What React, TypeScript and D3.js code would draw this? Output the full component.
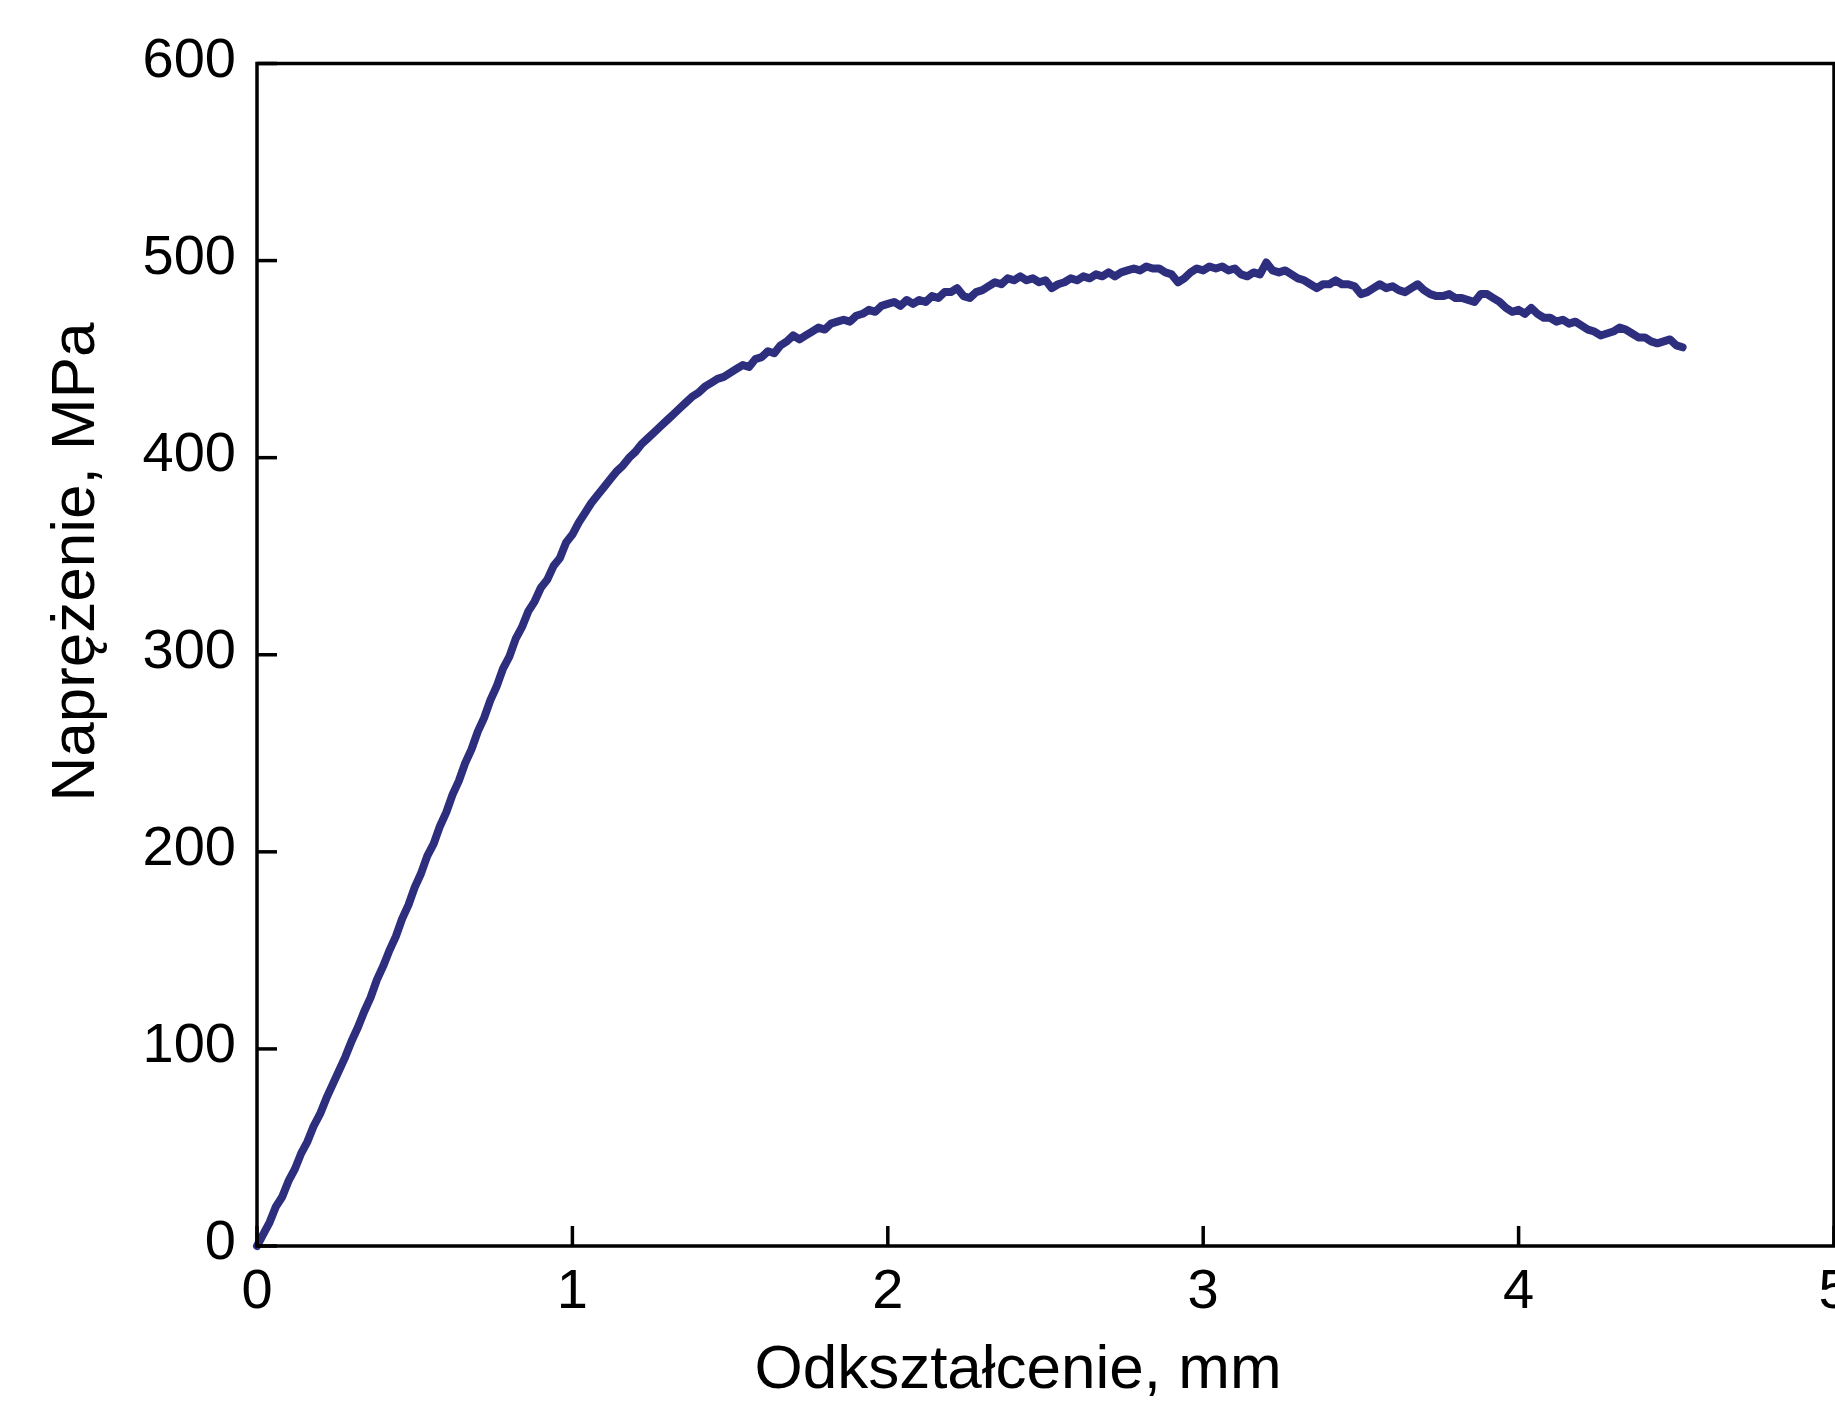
import React from "react";
import * as d3 from "d3";

const strain: number[] = [
  0.0, 0.02, 0.04, 0.06, 0.08, 0.1, 0.12, 0.14, 0.16, 0.18, 0.2, 0.22, 0.24, 0.26, 0.28, 0.3,
  0.32, 0.34, 0.36, 0.38, 0.4, 0.42, 0.44, 0.46, 0.48, 0.5, 0.52, 0.54, 0.56, 0.58, 0.6, 0.62,
  0.64, 0.66, 0.68, 0.7, 0.72, 0.74, 0.76, 0.78, 0.8, 0.82, 0.84, 0.86, 0.88, 0.9, 0.92, 0.94,
  0.96, 0.98, 1.0, 1.02, 1.04, 1.06, 1.08, 1.1, 1.12, 1.14, 1.16, 1.18, 1.2, 1.22, 1.24, 1.26,
  1.28, 1.3, 1.32, 1.34, 1.36, 1.38, 1.4, 1.42, 1.44, 1.46, 1.48, 1.5, 1.52, 1.54, 1.56, 1.58,
  1.6, 1.62, 1.64, 1.66, 1.68, 1.7, 1.72, 1.74, 1.76, 1.78, 1.8, 1.82, 1.84, 1.86, 1.88, 1.9,
  1.92, 1.94, 1.96, 1.98, 2.0, 2.02, 2.04, 2.06, 2.08, 2.1, 2.12, 2.14, 2.16, 2.18, 2.2, 2.22,
  2.24, 2.26, 2.28, 2.3, 2.32, 2.34, 2.36, 2.38, 2.4, 2.42, 2.44, 2.46, 2.48, 2.5, 2.52, 2.54,
  2.56, 2.58, 2.6, 2.62, 2.64, 2.66, 2.68, 2.7, 2.72, 2.74, 2.76, 2.78, 2.8, 2.82, 2.84, 2.86,
  2.88, 2.9, 2.92, 2.94, 2.96, 2.98, 3.0, 3.02, 3.04, 3.06, 3.08, 3.1, 3.12, 3.14, 3.16, 3.18,
  3.2, 3.22, 3.24, 3.26, 3.28, 3.3, 3.32, 3.34, 3.36, 3.38, 3.4, 3.42, 3.44, 3.46, 3.48, 3.5,
  3.52, 3.54, 3.56, 3.58, 3.6, 3.62, 3.64, 3.66, 3.68, 3.7, 3.72, 3.74, 3.76, 3.78, 3.8, 3.82,
  3.84, 3.86, 3.88, 3.9, 3.92, 3.94, 3.96, 3.98, 4.0, 4.02, 4.04, 4.06, 4.08, 4.1, 4.12, 4.14,
  4.16, 4.18, 4.2, 4.22, 4.24, 4.26, 4.28, 4.3, 4.32, 4.34, 4.36, 4.38, 4.4, 4.42, 4.44, 4.46,
  4.48, 4.5, 4.52,
];

const stress: number[] = [
  0, 6, 12, 20, 25, 33, 39, 47, 53, 61, 67, 75, 82, 89, 96, 104,
  111, 119, 126, 135, 142, 150, 157, 166, 173, 182, 189, 198, 204, 213, 220, 229,
  236, 245, 252, 261, 268, 277, 284, 293, 299, 308, 314, 322, 327, 334, 338, 345,
  349, 357, 361, 367, 372, 377, 381, 385, 389, 393, 396, 400, 403, 407, 410, 413,
  416, 419, 422, 425, 428, 431, 433, 436, 438, 440, 441, 443, 445, 447, 446, 450,
  451, 454, 453, 457, 459, 462, 460, 462, 464, 466, 465, 468, 469, 470, 469, 472,
  473, 475, 474, 477, 478, 479, 477, 480, 478, 480, 479, 482, 481, 484, 484, 486,
  482, 481, 484, 485, 487, 489, 488, 491, 490, 492, 490, 491, 489, 490, 486, 488,
  489, 491, 490, 492, 491, 493, 492, 494, 492, 494, 495, 496, 495, 497, 496, 496,
  494, 493, 489, 491, 494, 496, 495, 497, 496, 497, 495, 496, 493, 492, 494, 493,
  499, 495, 494, 495, 493, 491, 490, 488, 486, 488, 488, 490, 488, 488, 487, 483,
  484, 486, 488, 486, 487, 485, 484, 486, 488, 485, 483, 482, 482, 483, 481, 481,
  480, 479, 483, 483, 481, 479, 476, 474, 475, 473, 476, 473, 471, 471, 469, 470,
  468, 469, 467, 465, 464, 462, 463, 464, 466, 465, 463, 461, 461, 459, 458, 459,
  460, 457, 456,
];

const xTicks: number[] = [0, 1, 2, 3, 4, 5];
const yTicks: number[] = [0, 100, 200, 300, 400, 500, 600];
const xTitle = "Odkształcenie, mm";
const yTitle = "Naprężenie, MPa";

export default function App() {
  const W = 1835;
  const H = 1417;
  const left = 257;
  const right = 1834;
  const top = 63.5;
  const bottom = 1246;

  const x = d3.scaleLinear().domain([0, 5]).range([left, right]);
  const y = d3.scaleLinear().domain([0, 600]).range([bottom, top]);

  const pts: [number, number][] = strain.map((s, i) => [s, stress[i]]);
  const line = d3
    .line<[number, number]>()
    .x((d) => x(d[0]))
    .y((d) => y(d[1]));

  const font = "'Liberation Sans', Arial, sans-serif";
  const tickLen = 20;

  return (
    <svg
      width={W}
      height={H}
      style={{ position: "absolute", left: 0, top: 0, background: "#fff" }}
    >
      <rect x={0} y={0} width={W} height={H} fill="#fff" />
      <path
        d={line(pts) || ""}
        fill="none"
        stroke="#2d2e7e"
        strokeWidth={8}
        strokeLinejoin="round"
        strokeLinecap="round"
      />
      <rect
        x={left}
        y={top}
        width={right - left}
        height={bottom - top}
        fill="none"
        stroke="#000"
        strokeWidth={3.5}
      />
      {yTicks.map((t) => (
        <g key={"y" + t}>
          <line x1={left} x2={left + tickLen} y1={y(t)} y2={y(t)} stroke="#000" strokeWidth={3.5} />
          <text
            x={236}
            y={y(t) + 13}
            textAnchor="end"
            fontFamily={font}
            fontSize={56}
            fill="#000"
          >
            {t}
          </text>
        </g>
      ))}
      {xTicks.map((t) => (
        <g key={"x" + t}>
          <line x1={x(t)} x2={x(t)} y1={bottom} y2={bottom - tickLen} stroke="#000" strokeWidth={3.5} />
          <text
            x={x(t)}
            y={1308}
            textAnchor="middle"
            fontFamily={font}
            fontSize={56}
            fill="#000"
          >
            {t}
          </text>
        </g>
      ))}
      <text x={1018} y={1388} textAnchor="middle" fontFamily={font} fontSize={62} fill="#000">
        {xTitle}
      </text>
      <text
        transform={`translate(94, 562) rotate(-90)`}
        textAnchor="middle"
        fontFamily={font}
        fontSize={62}
        fill="#000"
      >
        {yTitle}
      </text>
    </svg>
  );
}
